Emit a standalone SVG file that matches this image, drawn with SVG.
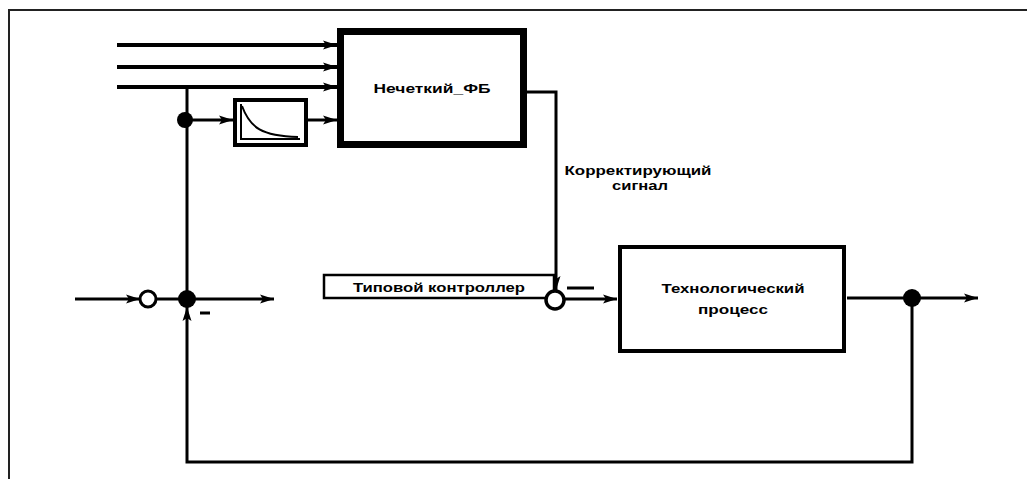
<svg xmlns="http://www.w3.org/2000/svg" width="1027" height="479" viewBox="0 0 1027 479">
<style>
.ln{fill:none;stroke:#000;stroke-width:3}
.thk{fill:none;stroke:#000;stroke-width:4}
.box{fill:#fff;stroke:#000}
.t{font-family:"Liberation Sans",Arial,sans-serif;font-weight:bold;font-size:13px;fill:#000}
</style>
<defs>
<marker id="ah" viewBox="0 0 14 11" refX="14" refY="5.5" markerWidth="14" markerHeight="11" markerUnits="userSpaceOnUse" orient="auto">
<path d="M0,1 L14,5.5 L0,10 L3,5.5 Z" fill="#000"/>
</marker>
</defs>
<rect width="1027" height="479" fill="#fff"/>
<path d="M9,479 V10 H1027" fill="none" stroke="#222" stroke-width="2"/>

<g id="connectors">
<line class="thk" x1="117" y1="45" x2="337" y2="45" marker-end="url(#ah)"/>
<line class="thk" x1="117" y1="67" x2="337" y2="67" marker-end="url(#ah)"/>
<line class="thk" x1="117" y1="87" x2="337" y2="87" marker-end="url(#ah)"/>
<line class="ln" x1="187" y1="87" x2="187" y2="299"/>
<line class="ln" x1="187" y1="120" x2="233" y2="120" marker-end="url(#ah)"/>
<line class="ln" x1="308" y1="120" x2="337" y2="120" marker-end="url(#ah)"/>
<polyline class="ln" points="527,92 556,92 556,290" marker-end="url(#ah)"/>
<line class="ln" x1="75" y1="299" x2="140" y2="299" marker-end="url(#ah)"/>
<line class="ln" x1="156" y1="299" x2="187" y2="299"/>
<line class="ln" x1="187" y1="299" x2="274" y2="299" marker-end="url(#ah)"/>
<line class="ln" x1="567" y1="288" x2="594" y2="288"/>
<line class="ln" x1="564" y1="299" x2="617" y2="299" marker-end="url(#ah)"/>
<line class="ln" x1="847" y1="298" x2="978" y2="298" marker-end="url(#ah)"/>
<polyline class="ln" points="912,298 912,462 187,462 187,307" marker-end="url(#ah)"/>
<line class="ln" x1="200" y1="313" x2="210" y2="313"/>
</g>

<g id="fuzzy_fb">
<rect class="box" x="340.5" y="31.5" width="183" height="113" stroke-width="7"/>
<text class="t" x="432" y="93" text-anchor="middle" textLength="117" lengthAdjust="spacingAndGlyphs">Нечеткий_ФБ</text>
</g>

<g id="filter">
<rect class="box" x="235" y="100" width="71" height="45" stroke-width="4"/>
<path d="M241,104 V139 H300" fill="none" stroke="#000" stroke-width="2"/>
<path d="M242,106 C250,128 262,136 298,137" fill="none" stroke="#000" stroke-width="2"/>
</g>

<g id="junction1"><circle cx="185" cy="120" r="8" fill="#000"/></g>
<g id="junction2"><circle cx="187" cy="299" r="9" fill="#000"/></g>
<g id="junction3"><circle cx="912" cy="298" r="9" fill="#000"/></g>
<g id="sum1"><circle cx="148" cy="299" r="8" fill="#fff" stroke="#000" stroke-width="3"/></g>

<g id="controller">
<rect class="box" x="324" y="275" width="230" height="23" stroke-width="2.5"/>
<text class="t" x="439" y="292" text-anchor="middle" textLength="172" lengthAdjust="spacingAndGlyphs">Типовой контроллер</text>
</g>
<g id="sum2"><circle cx="555" cy="300" r="9" fill="#fff" stroke="#000" stroke-width="3.5"/></g>

<g id="signal_label">
<text class="t" x="638" y="175" text-anchor="middle" textLength="147" lengthAdjust="spacingAndGlyphs">Корректирующий</text>
<text class="t" x="640" y="190" text-anchor="middle" textLength="56" lengthAdjust="spacingAndGlyphs">сигнал</text>
</g>

<g id="process">
<rect class="box" x="620" y="247" width="224" height="104" stroke-width="4"/>
<text class="t" x="733" y="293" text-anchor="middle" textLength="143" lengthAdjust="spacingAndGlyphs">Технологический</text>
<text class="t" x="733" y="314" text-anchor="middle" textLength="70" lengthAdjust="spacingAndGlyphs">процесс</text>
</g>
</svg>
